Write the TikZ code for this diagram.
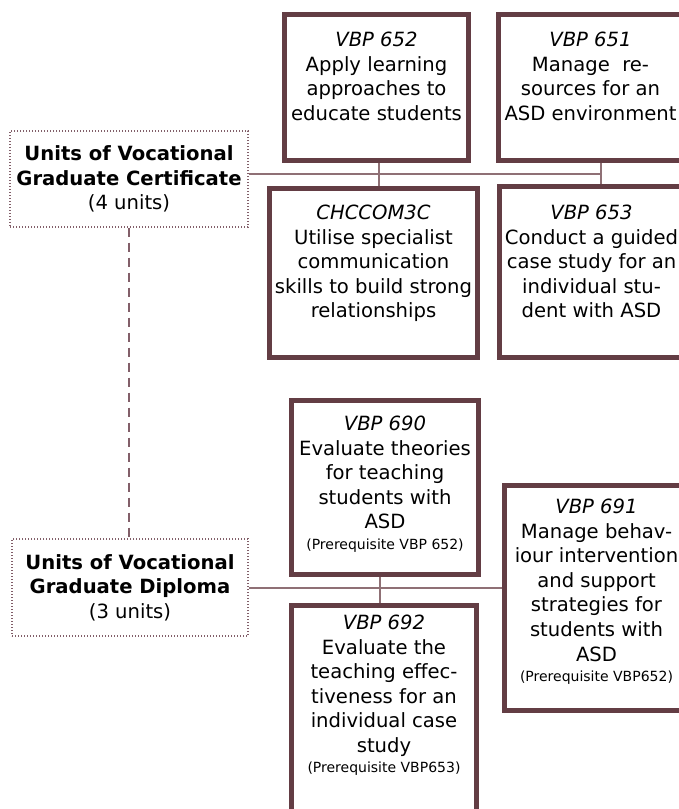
\documentclass[tikz,border=0pt]{standalone}
\usepackage{fontspec}
\setmainfont{DejaVu Sans}
\usetikzlibrary{arrows}
\definecolor{rahmen}{RGB}{99,61,68}
\definecolor{linie}{RGB}{143,112,117}
\definecolor{punkt}{RGB}{130,95,105}
\newcommand{\prereq}[1]{{\fontsize{14}{17}\selectfont #1}}
\begin{document}
\begin{tikzpicture}[x=1pt,y=-1pt,
		font=\fontsize{19.6}{24.6}\selectfont,
		unit/.style={draw=rahmen,line width=5pt,fill=white,inner sep=0pt,outer sep=2.5pt,anchor=north west},
		kurs/.style={draw=punkt,line width=1.3pt,dash pattern=on 1.2pt off 1.8pt,align=center,inner sep=0pt},
		link/.style={draw=linie,line width=2pt}]
		\useasboundingbox (0,0) rectangle (678,809);
	%Kurse
		\node[kurs,minimum width=238,minimum height=96] (gc) at (129,179)
			{\textbf{Units of Vocational}\\\textbf{Graduate Certificate}\\(4 units)};
		\node[kurs,minimum width=236,minimum height=97] (gd) at (130,587.5)
			{\textbf{Units of Vocational}\\\textbf{Graduate Diploma}\\(3 units)};
	%Einheiten
		\foreach \nm/\x/\y/\w/\h/\p/\txt in {
			v652/282/12/184/146/17.5/{\textit{VBP 652}\\Apply learning\\approaches to\\educate students},
			v651/496/12/184/146/17.5/{\textit{VBP 651}\\Manage\ \ re-\\sources for an\\ASD environment},
			chc/267/186/208/169/16.5/{\textit{CHCCOM3C}\\Utilise specialist\\communication\\skills to build strong\\relationships},
			v653/497/184/184/171/18.5/{\textit{VBP 653}\\Conduct a guided\\case study for an\\individual stu-\\dent with ASD},
			v690/289/398/187/174/15.5/{\textit{VBP 690}\\Evaluate theories\\for teaching\\students with\\ASD\\[-4.5pt]\prereq{(Prerequisite VBP 652)}},
			v691/502/483/184/225/13.5/{\textit{VBP 691}\\Manage behav-\\iour intervention\\and support\\strategies for\\students with\\ASD\\[-4.5pt]\prereq{(Prerequisite VBP652)}},
			v692/289/603/185/240/9.5/{\textit{VBP 692}\\Evaluate the\\teaching effec-\\tiveness for an\\individual case\\study\\[-4.5pt]\prereq{(Prerequisite VBP653)}}}
			\node[unit] (\nm) at (\x,\y) {\parbox[c][\h pt][t]{\w pt}{\centering\vspace*{\p pt}\txt}};
	%Verbindungen
		\coordinate (k1) at ([xshift=10.5pt,yshift=5pt]gc.east -| v651.south);
		\draw[link] ([yshift=5pt]gc.east) -- (k1);
		\draw[link] ([xshift=2.5pt]v652.south) -- ([xshift=2.5pt]v652.south |- chc.north);
		\draw[link] ([xshift=10.5pt]v651.south) -- ([xshift=10.5pt]v651.south |- v653.north);
		\draw[link] (gd.east) -- (gd.east -| v691.west);
		\draw[link] ([xshift=-5pt]v690.south) -- ([xshift=-5pt]v690.south |- v692.north);
		\draw[draw=punkt,line width=2pt,dash pattern=on 9pt off 6pt] (gc.south) -- (gc.south |- gd.north);
\end{tikzpicture}
\end{document}
